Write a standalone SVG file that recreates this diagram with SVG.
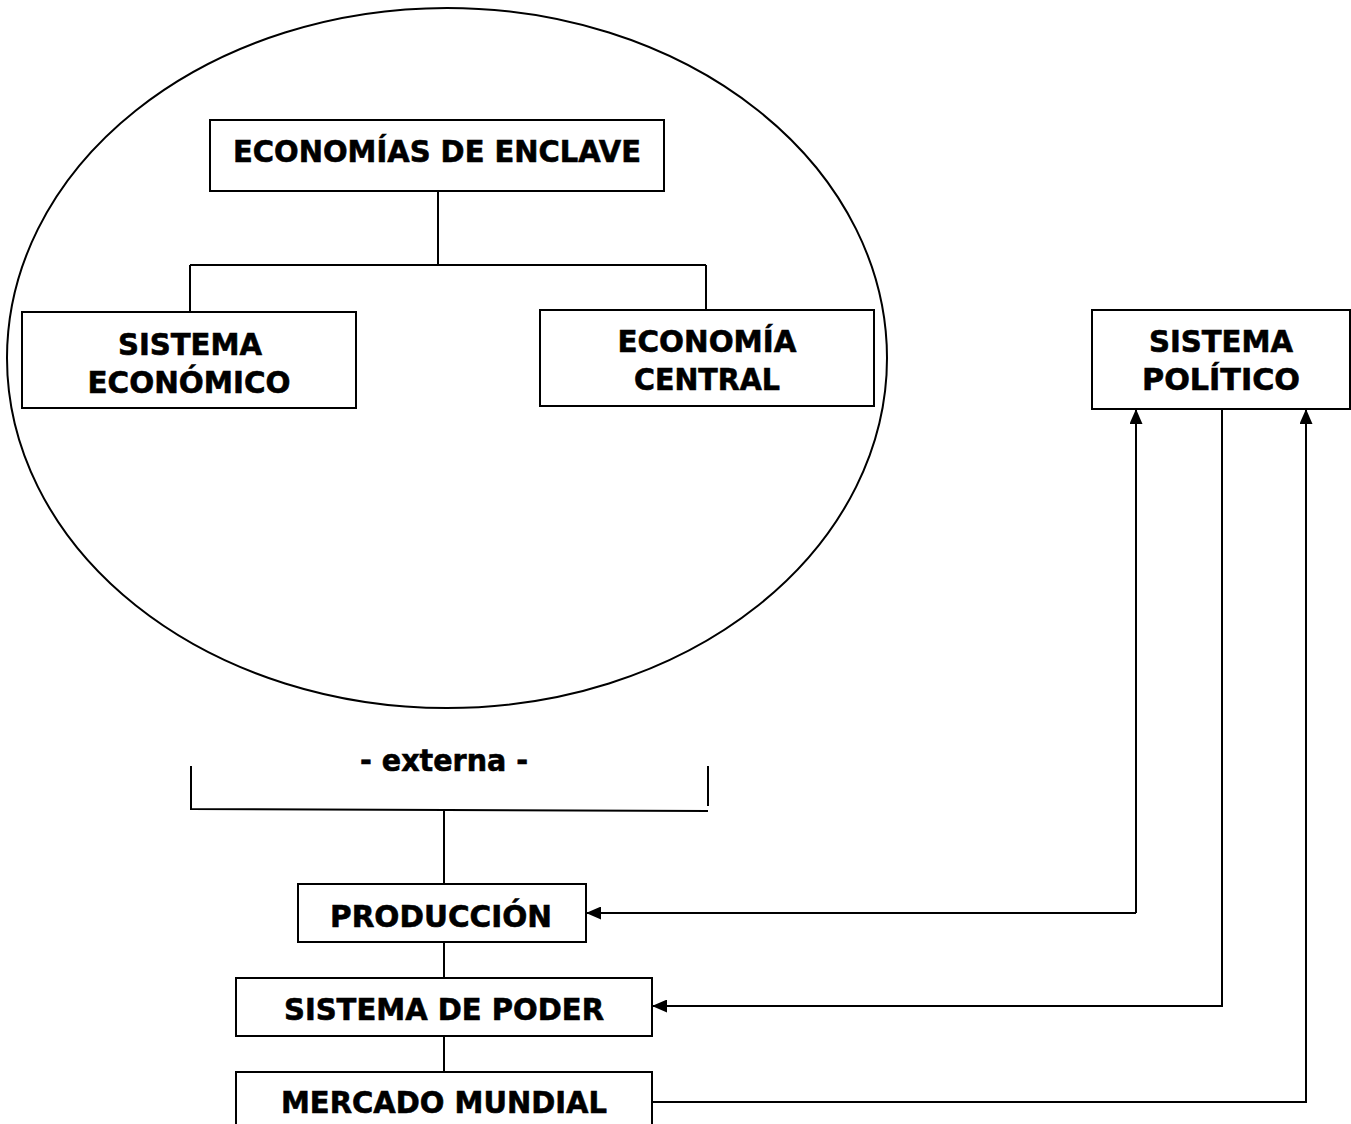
<svg xmlns="http://www.w3.org/2000/svg" width="1351" height="1124" viewBox="0 0 1351 1124">
<style>
.box{fill:#fff;stroke:#000;stroke-width:2}
.ln{fill:none;stroke:#000;stroke-width:2}
text{font-family:"DejaVu Sans","Liberation Sans",sans-serif;font-weight:bold;font-size:30px;fill:#000;stroke:#000;stroke-width:0.6;text-anchor:middle}
</style>
<defs>
<marker id="ah" viewBox="0 0 15 13" refX="14" refY="6.5" markerWidth="15" markerHeight="13" markerUnits="userSpaceOnUse" orient="auto">
<path d="M0,0 L15,6.5 L0,13 Z" fill="#000"/>
</marker>
</defs>
<rect width="1351" height="1124" fill="#fff"/>
<ellipse cx="447" cy="358" rx="440" ry="350" class="ln" stroke-width="1.5"/>
<g id="connectors">
<path class="ln" d="M438,191 V265 M190,265 H706 M190,265 V312 M706,265 V310"/>
<path class="ln" d="M191,766 V810 M708,766 V806 M191,809 L708,811 M444,810 V884"/>
<path class="ln" d="M444,942 V978 M444,1036 V1072"/>
<path class="ln" d="M1136,913 V410" marker-end="url(#ah)"/>
<path class="ln" d="M1136,913 H587" marker-end="url(#ah)"/>
<path class="ln" d="M1222,409 V1006 H653" marker-end="url(#ah)"/>
<path class="ln" d="M652,1102 H1306 V410" marker-end="url(#ah)"/>
</g>
<g id="n-enclave">
<rect class="box" x="210" y="120" width="454" height="71"/>
<text x="437" y="162" textLength="408" lengthAdjust="spacingAndGlyphs">ECONOMÍAS DE ENCLAVE</text>
</g>
<g id="n-sisecon">
<rect class="box" x="22" y="312" width="334" height="96"/>
<text x="190" y="355" textLength="144" lengthAdjust="spacingAndGlyphs">SISTEMA</text>
<text x="189" y="393" textLength="203" lengthAdjust="spacingAndGlyphs">ECONÓMICO</text>
</g>
<g id="n-central">
<rect class="box" x="540" y="310" width="334" height="96"/>
<text x="707" y="352" textLength="179" lengthAdjust="spacingAndGlyphs">ECONOMÍA</text>
<text x="707" y="390" textLength="146" lengthAdjust="spacingAndGlyphs">CENTRAL</text>
</g>
<g id="n-politico">
<rect class="box" x="1092" y="310" width="258" height="99"/>
<text x="1221" y="352" textLength="144" lengthAdjust="spacingAndGlyphs">SISTEMA</text>
<text x="1221" y="390" textLength="158" lengthAdjust="spacingAndGlyphs">POLÍTICO</text>
</g>
<g id="n-externa">
<text x="444" y="771" textLength="168" lengthAdjust="spacingAndGlyphs">- externa -</text>
</g>
<g id="n-produccion">
<rect class="box" x="298" y="884" width="288" height="58"/>
<text x="441" y="927" textLength="222" lengthAdjust="spacingAndGlyphs">PRODUCCIÓN</text>
</g>
<g id="n-poder">
<rect class="box" x="236" y="978" width="416" height="58"/>
<text x="444" y="1020" textLength="320" lengthAdjust="spacingAndGlyphs">SISTEMA DE PODER</text>
</g>
<g id="n-mercado">
<rect class="box" x="236" y="1072" width="416" height="60"/>
<text x="444" y="1113" textLength="326" lengthAdjust="spacingAndGlyphs">MERCADO MUNDIAL</text>
</g>
</svg>
